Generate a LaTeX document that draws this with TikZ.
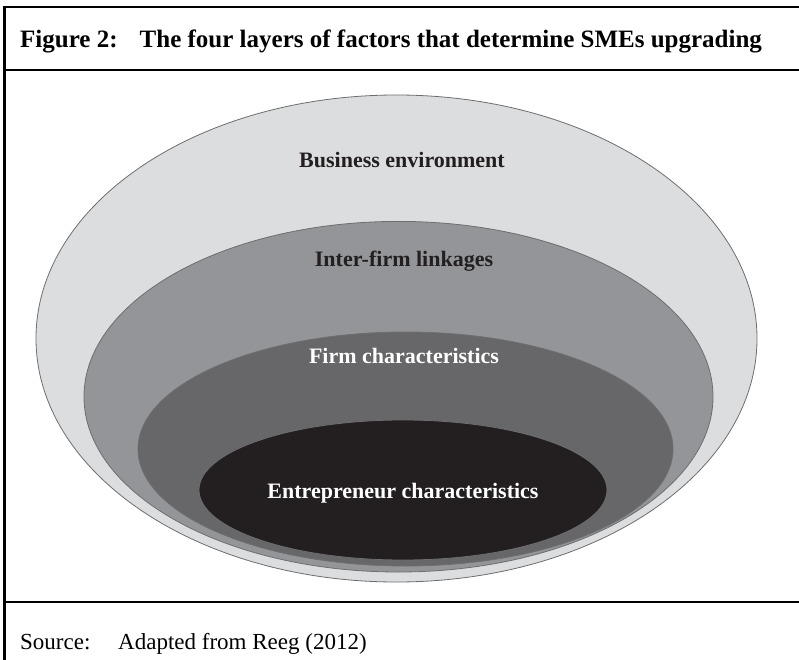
\documentclass[tikz,border=0pt]{standalone}
\usepackage{fontspec}
\setmainfont{Liberation Serif}
\definecolor{layerA}{HTML}{DCDDDF}
\definecolor{layerB}{HTML}{939598}
\definecolor{layerC}{HTML}{676769}
\definecolor{layerD}{HTML}{231F20}
\definecolor{rim}{HTML}{6D6E70}
\tikzset{
  frameline/.style={line width=2.2bp, black},
  layer/.style={draw=rim, line width=0.8bp},
  darklabel/.style={font=\bfseries\fontsize{22bp}{26bp}\selectfont, text=layerD, anchor=base, inner sep=0pt},
  lightlabel/.style={font=\bfseries\fontsize{22bp}{26bp}\selectfont, text=white, anchor=base, inner sep=0pt}
}
\begin{document}
\begin{tikzpicture}[x=1bp,y=-1bp]
\useasboundingbox (0,0) rectangle (799,660);
\clip (0,0) rectangle (799,660);
\fill[white] (0,0) rectangle (799,660);
% frame
\draw[frameline] (4.5,700) -- (4.5,7) -- (830,7);
\draw[frameline] (4.5,70) -- (830,70);
\draw[frameline] (4.5,602) -- (830,602);
% title and source
\node[anchor=base west, inner sep=0pt, font=\bfseries\fontsize{25bp}{30bp}\selectfont] (title) at (20,48)
  {Figure 2:\hspace{0.55em} The four layers of factors that determine SMEs upgrading};
\node[anchor=base west, inner sep=0pt, font=\fontsize{23bp}{28bp}\selectfont] (srclab) at (20,649) {Source:};
\node[anchor=base west, inner sep=0pt, font=\fontsize{23bp}{28bp}\selectfont] (srctxt) at (118,649) {Adapted from Reeg (2012)};
% layers
\filldraw[layer, fill=layerA] (396.5,338.5) ellipse [x radius=360.5bp, y radius=243.5bp];
\filldraw[layer, fill=layerB] (398.5,396.7) ellipse [x radius=314.5bp, y radius=175.3bp];
\filldraw[layer, fill=layerC] (405.5,449) ellipse [x radius=267.5bp, y radius=117bp];
\filldraw[layer, fill=layerD] (403,490) ellipse [x radius=204bp, y radius=70bp];
% labels
\node[darklabel] (business) at (402,167) {Business environment};
\node[darklabel] (interfirm) at (404,266) {Inter-firm linkages};
\node[lightlabel] (firm) at (404,363) {Firm characteristics};
\node[lightlabel] (entre) at (403,498) {Entrepreneur characteristics};
\end{tikzpicture}
\end{document}
